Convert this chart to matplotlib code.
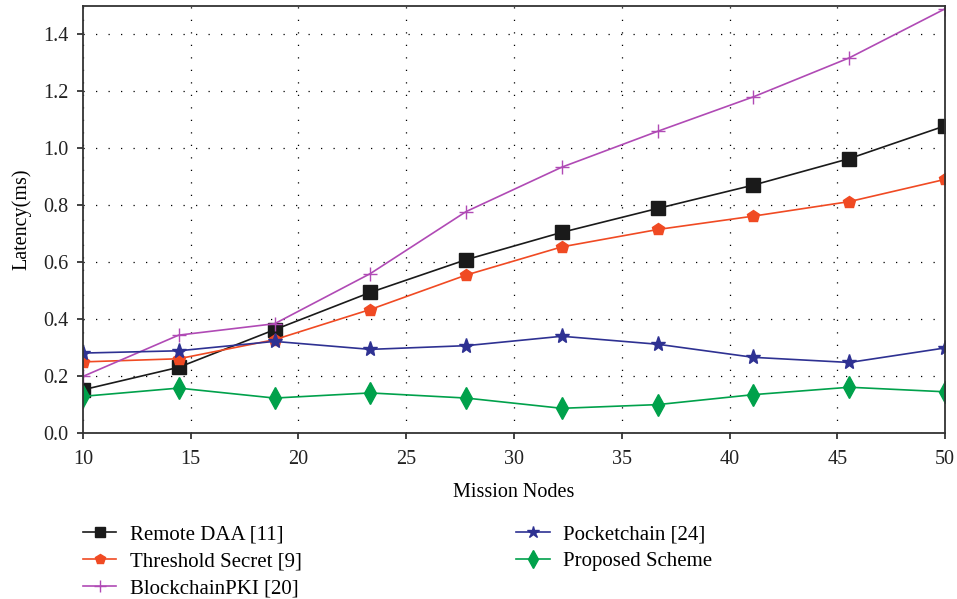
import matplotlib.pyplot as plt

# x positions (mission nodes)
nodes = [10, 14.44, 18.89, 23.33, 27.78, 32.22, 36.67, 41.11, 45.56, 50]

remote_daa = [0.152, 0.231, 0.363, 0.494, 0.609, 0.705, 0.789, 0.871, 0.964, 1.079]
threshold_secret = [0.250, 0.261, 0.328, 0.434, 0.555, 0.654, 0.715, 0.762, 0.813, 0.891]
blockchain_pki = [0.199, 0.344, 0.384, 0.560, 0.778, 0.934, 1.060, 1.181, 1.318, 1.490]
pocketchain = [0.281, 0.289, 0.322, 0.294, 0.307, 0.340, 0.312, 0.266, 0.248, 0.299]
proposed = [0.129, 0.158, 0.123, 0.141, 0.123, 0.087, 0.100, 0.135, 0.161, 0.145]

plt.rcParams['font.family'] = ['Liberation Serif', 'DejaVu Serif']
plt.rcParams['font.size'] = 14.5

fig = plt.figure(figsize=(9.57, 5.99), dpi=100)
ax = fig.add_axes([0.0867, 0.277, 0.9008, 0.713])

ax.plot(nodes, remote_daa, color='#1a1a1a', marker='s', markersize=9.5, lw=1.2, label='Remote DAA [11]')
ax.plot(nodes, threshold_secret, color='#f04a23', marker='p', markersize=9, lw=1.2, label='Threshold Secret [9]')
ax.plot(nodes, blockchain_pki, color='#b04ab5', marker='+', markersize=10, mew=1.0, lw=1.2, label='BlockchainPKI [20]')
ax.plot(nodes, pocketchain, color='#2e3192', marker='*', markersize=11, lw=1.2, label='Pocketchain [24]')
ax.plot(nodes, proposed, color='#00a14b', marker='d', markersize=11, lw=1.2, label='Proposed Scheme')

ax.set_xlim(10, 50)
ax.set_ylim(0, 1.5)
ax.set_xticks([10, 15, 20, 25, 30, 35, 40, 45, 50])
ax.set_yticks([0.0, 0.2, 0.4, 0.6, 0.8, 1.0, 1.2, 1.4])
ax.set_yticklabels(['0.0', '0.2', '0.4', '0.6', '0.8', '1.0', '1.2', '1.4'])
ax.grid(True, color='black', linestyle=(0, (1, 9)), linewidth=0.9)
ax.tick_params(direction='out', length=4.5, width=1.2, pad=6, colors='#222222')
ax.tick_params(axis='x', pad=8)
for s in ax.spines.values():
    s.set_linewidth(1.3)
    s.set_color('#333333')

ax.set_xlabel('Mission Nodes', labelpad=10)
ax.set_ylabel('Latency(ms)', labelpad=8)

fig.legend(loc='upper left', bbox_to_anchor=(0.0867, 0.124), ncol=2, frameon=False,
           fontsize=15, columnspacing=10.3, handlelength=1.6, handletextpad=0.65,
           labelspacing=0.36, borderaxespad=0, borderpad=0, markerscale=0.8)

fig.savefig('out.png', dpi=100)
